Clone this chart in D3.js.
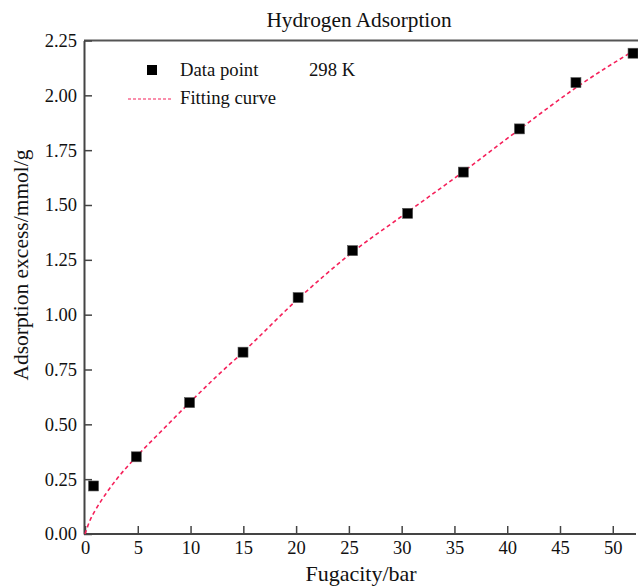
<!DOCTYPE html>
<html>
<head>
<meta charset="utf-8">
<script src="https://cdn.jsdelivr.net/npm/d3@7"></script>
<style>
  html, body { margin: 0; padding: 0; background: #fff; }
  svg { display: block; font-family: "Liberation Serif", "Times New Roman", serif; }
</style>
</head>
<body>
<div id="chart"></div>
<script>
//measured data points
const fugacity = [0.81, 4.86, 9.91, 14.97, 20.19, 25.35, 30.57, 35.84, 41.16, 46.51, 51.92];
const adsorption = [0.219, 0.352, 0.599, 0.829, 1.078, 1.292, 1.462, 1.65, 1.847, 2.058, 2.192];

//fitting curve
const fitX = [0, 0.5, 1, 2, 3, 4.86, 7.5, 9.91, 12.5, 14.97, 20.19, 25.35, 30.57, 35.84, 41.16, 46.51, 52.2];
const fitY = [0, 0.065, 0.11, 0.185, 0.25, 0.352, 0.482, 0.599, 0.72, 0.829, 1.072, 1.285, 1.468, 1.652, 1.845, 2.035, 2.21];

const xTicks = [0, 5, 10, 15, 20, 25, 30, 35, 40, 45, 50];
const yTicks = [0, 0.25, 0.5, 0.75, 1, 1.25, 1.5, 1.75, 2, 2.25];

const width = 638, height = 586;
const plotLeft = 85, plotRight = 636, plotTop = 40.5, plotBottom = 534;
const serif = "Liberation Serif, Times New Roman, serif";

const svg = d3.select("#chart").append("svg")
  .attr("width", width)
  .attr("height", height);

const x = d3.scaleLinear().domain([0, 52.2]).range([plotLeft, plotRight]);
const y = d3.scaleLinear().domain([0, 2.25]).range([plotBottom, plotTop]);

//top frame line
svg.append("line")
  .attr("x1", plotLeft - 1).attr("x2", width)
  .attr("y1", plotTop).attr("y2", plotTop)
  .attr("stroke", "#555").attr("stroke-width", 2);

//x axis, ticks pointing inward
const xAxis = svg.append("g")
  .attr("transform", `translate(0,${plotBottom})`)
  .call(d3.axisBottom(x).tickValues(xTicks).tickSizeInner(-8).tickSizeOuter(0).tickPadding(7).tickFormat(d3.format("d")));
xAxis.select(".domain").attr("stroke", "#444").attr("stroke-width", 2)
  .attr("d", `M${plotLeft - 1},0H${plotRight}`);
xAxis.selectAll(".tick line").attr("stroke", "#444").attr("stroke-width", 1.5);
xAxis.selectAll(".tick text")
  .attr("font-size", 18.5).attr("fill", "#111")
  .attr("font-family", serif);

//y axis, ticks pointing inward
const yAxis = svg.append("g")
  .attr("transform", `translate(${plotLeft - 1},0)`)
  .call(d3.axisLeft(y).tickValues(yTicks).tickSizeInner(-8).tickSizeOuter(0).tickPadding(7).tickFormat(d3.format(".2f")));
yAxis.select(".domain").attr("stroke", "#444").attr("stroke-width", 2);
yAxis.selectAll(".tick line").attr("stroke", "#444").attr("stroke-width", 1.5);
yAxis.selectAll(".tick text")
  .attr("font-size", 18.5).attr("fill", "#111")
  .attr("font-family", serif);

//fitting curve
const line = d3.line()
  .x((d) => x(d[0]))
  .y((d) => y(d[1]))
  .curve(d3.curveMonotoneX);

svg.append("path")
  .datum(d3.zip(fitX, fitY))
  .attr("d", line)
  .attr("fill", "none")
  .attr("stroke", "#f5205a")
  .attr("stroke-width", 1.6)
  .attr("stroke-dasharray", "4,3");

//data points
const ms = 10;
svg.append("g")
  .selectAll("rect")
  .data(d3.zip(fugacity, adsorption))
  .join("rect")
  .attr("x", (d) => x(d[0]) - ms / 2)
  .attr("y", (d) => y(d[1]) - ms / 2)
  .attr("width", ms)
  .attr("height", ms)
  .attr("fill", "#000")
  .attr("stroke", "#555")
  .attr("stroke-width", 0.6);

//title and axis labels
svg.append("text")
  .attr("x", 359).attr("y", 27)
  .attr("text-anchor", "middle")
  .attr("font-family", serif)
  .attr("font-size", 21.3).attr("fill", "#111")
  .text("Hydrogen Adsorption");

svg.append("text")
  .attr("x", 361).attr("y", 581)
  .attr("text-anchor", "middle")
  .attr("font-family", serif)
  .attr("font-size", 22).attr("fill", "#111")
  .text("Fugacity/bar");

svg.append("text")
  .attr("transform", "translate(28,265) rotate(-90)")
  .attr("text-anchor", "middle")
  .attr("font-family", serif)
  .attr("font-size", 21.5).attr("fill", "#111")
  .text("Adsorption excess/mmol/g");

//legend
svg.append("rect")
  .attr("x", 147).attr("y", 65)
  .attr("width", ms).attr("height", ms)
  .attr("fill", "#000");
svg.append("text")
  .attr("x", 180).attr("y", 76)
  .attr("font-family", serif)
  .attr("font-size", 18.7).attr("fill", "#111")
  .text("Data point");
svg.append("text")
  .attr("x", 309).attr("y", 76)
  .attr("font-family", serif)
  .attr("font-size", 18.7).attr("fill", "#111")
  .text("298 K");
svg.append("line")
  .attr("x1", 128).attr("x2", 173)
  .attr("y1", 99).attr("y2", 99)
  .attr("stroke", "#f5205a")
  .attr("stroke-width", 1.2)
  .attr("stroke-dasharray", "3,2");
svg.append("text")
  .attr("x", 180).attr("y", 104)
  .attr("font-family", serif)
  .attr("font-size", 18.7).attr("fill", "#111")
  .text("Fitting curve");
</script>
</body>
</html>
